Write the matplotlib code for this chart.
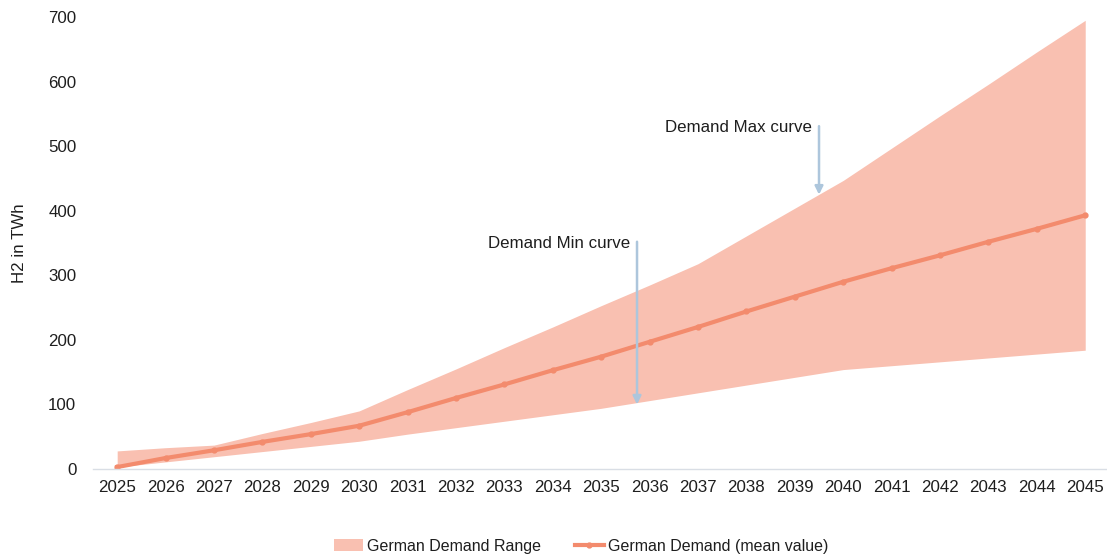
import matplotlib
matplotlib.use("Agg")
import matplotlib.pyplot as plt
import numpy as np

plt.rcParams['font.family'] = ['Liberation Sans', 'DejaVu Sans']

years = [str(y) for y in range(2025, 2046)]
demand_min = [3, 11, 19, 27, 35, 43, 54, 64, 74, 84, 94, 106, 118, 130, 142, 154,
              160, 166, 172, 178, 184]
demand_max = [28, 33, 37, 55, 72, 90, 123, 155, 188, 220, 253, 285, 318, 361, 404,
              447, 497, 547, 596, 646, 695]
demand_mean = [3, 17, 29, 42, 54, 67, 88, 110, 131, 153, 174, 197, 220, 244, 267,
               290, 311, 331, 352, 372, 393]

fill_color = '#F9C0B1'
line_color = '#F38B6D'
arrow_color = '#ADC6DC'
text_color = '#1E1E1E'
fs = 12.2

fig = plt.figure(figsize=(11.07, 5.6), dpi=100)
ax = fig.add_axes([0.084, 0.1625, 0.916, 0.807])

x = np.arange(len(years))
ax.fill_between(x, demand_min, demand_max, color=fill_color, linewidth=0,
                label='German Demand Range')
ax.plot(x, demand_mean, color=line_color, linewidth=3, marker='o', markersize=3.5,
        label='German Demand (mean value)')

ax.set_xlim(-0.5, 20.45)
ax.set_ylim(0, 700)
ax.set_xticks(x)
ax.set_xticklabels(years)
ax.set_yticks(range(0, 701, 100))
ax.tick_params(axis='both', length=0, labelsize=fs, colors=text_color)
ax.tick_params(axis='y', pad=12)
ax.tick_params(axis='x', pad=8)

for side in ['top', 'right', 'left']:
    ax.spines[side].set_visible(False)
ax.spines['bottom'].set_color('#D9DEE5')
ax.spines['bottom'].set_linewidth(1)

ax.set_ylabel('H2 in TWh', fontsize=fs, color=text_color, labelpad=15)

# Annotations pointing to the boundaries of the range
arrow_style = dict(arrowstyle='-|>', color=arrow_color, lw=1.8, mutation_scale=12,
                   shrinkA=0, shrinkB=0)
ax.annotate('', xy=(10.74, 100), xytext=(10.74, 352), arrowprops=arrow_style)
ax.text(10.6, 350, 'Demand Min curve', ha='right', va='center', fontsize=fs,
        color=text_color)
ax.annotate('', xy=(14.5, 425), xytext=(14.5, 531), arrowprops=arrow_style)
ax.text(14.36, 529, 'Demand Max curve', ha='right', va='center', fontsize=fs,
        color=text_color)

leg = fig.legend(loc='center', bbox_to_anchor=(0.525, 0.025), ncol=2, frameon=False,
                 fontsize=11.5, handlelength=1.8, columnspacing=2.1,
                 handletextpad=0.25)
for t in leg.get_texts():
    t.set_color(text_color)

fig.savefig('out.png', dpi=100, facecolor='white')
